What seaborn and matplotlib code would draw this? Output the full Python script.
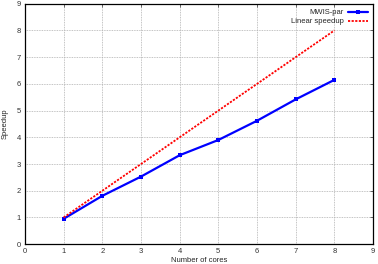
import numpy as np
import pandas as pd
import matplotlib
matplotlib.use("Agg")
import matplotlib.pyplot as plt
import seaborn as sns

# data
cores = [1, 2, 3, 4, 5, 6, 7, 8]
mwis_par = [0.95, 1.81, 2.53, 3.33, 3.90, 4.62, 5.42, 6.15]
linear = [1, 2, 3, 4, 5, 6, 7, 8]

sns.set_style("white")
plt.rcParams['font.family'] = ['Liberation Sans', 'DejaVu Sans']

df = pd.DataFrame({"cores": cores, "MWIS-par": mwis_par, "Linear speedup": linear})

fig = plt.figure(figsize=(3.78, 2.64), dpi=100)
ax = fig.add_axes([0.066, 0.075, 0.921, 0.911])

sns.lineplot(data=df, x="cores", y="MWIS-par", ax=ax, color="#0000ff",
             linewidth=1.6, marker="s", markersize=3, markeredgewidth=0,
             label="MWIS-par")
sns.lineplot(data=df, x="cores", y="Linear speedup", ax=ax, color="#ff0000",
             linewidth=1.3, linestyle=(0, (1.2, 0.8)), label="Linear speedup")

ax.set_xlim(0, 9)
ax.set_ylim(0, 9)
ax.set_xticks(range(0, 10))
ax.set_yticks(range(0, 10))
ax.tick_params(labelsize=5.5, length=2, width=0.5, direction="in", pad=3,
               colors="#333333", top=True, right=True)
ax.grid(True, color="#b0b0b0", linestyle=(0, (1, 1)), linewidth=0.6)
for s in ax.spines.values():
    s.set_linewidth(0.9)
    s.set_color("black")

ax.set_xlabel("Number of cores", fontsize=5.5, labelpad=1.5)
ax.set_ylabel("Speedup", fontsize=5.5, labelpad=6)

ax.legend(loc="upper right", frameon=False, fontsize=5.5, markerfirst=False,
          handlelength=2.6, borderaxespad=0.3, labelspacing=0.2, handletextpad=0.5)

fig.savefig("out.png", dpi=100)
